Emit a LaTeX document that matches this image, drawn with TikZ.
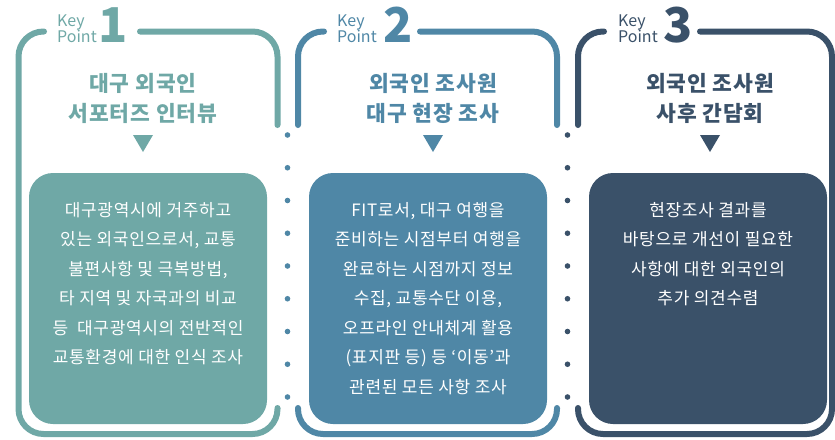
\documentclass[tikz,border=0pt]{standalone}
\usepackage{fontspec}
\setmainfont{Noto Sans CJK KR}
\newfontfamily\kpspaced{Noto Sans CJK KR}[LetterSpace=4]
\usepackage{xcolor}
\usepackage{tikz}
\usetikzlibrary{calc,positioning}
\definecolor{kpteal}{HTML}{6FA8A6}
\definecolor{kpblue}{HTML}{4F87A6}
\definecolor{kpnavy}{HTML}{3A5169}
\tikzset{
kpframe/.style={
	line width=6pt,
	line cap=round,
	rounded corners=25pt
},
bodybox/.style={rounded corners=24pt, minimum width=238pt, minimum height=251pt, inner sep=0pt},
bodytext/.style={text=white, align=center, inner sep=0pt, font=\kpspaced\fontsize{17}{29.5}\selectfont},
titletext/.style={align=center, inner sep=0pt, font=\kpspaced\bfseries\fontsize{21.5}{30}\selectfont},
keytext/.style={inner sep=0pt, anchor=base west, font=\fontsize{16}{16}\selectfont},
numtext/.style={inner sep=0pt, anchor=base, font=\bfseries\fontsize{48}{48}\selectfont}
}

\begin{document}
\begin{tikzpicture}[x=1pt,y=-1pt]
% Three key-point panels, pixel grid with y running down
\useasboundingbox (0,0) rectangle (835,439);

% ── Panel 1: supporter interview ───────────────────────────────
\draw[kpframe,kpteal] (44,31.5) -| (18.5,434) -| (277.5,408);
\draw[kpframe,kpteal] (140,31.5) -| (277.5,125);
\node[keytext,text=kpteal] (key1) at (57,26) {Key};
\node[keytext,text=kpteal] (point1) at (57,42) {Point};
\node[numtext,text=kpteal] (num1) at (113,42) {1};
\node[titletext,text=kpteal] (head1) at (143,98)
 {대구 외국인\\서포터즈 인터뷰};
\fill[kpteal] (133,135) -- (153,135) -- (143,152) -- cycle;
\node[bodybox,fill=kpteal] (box1) at (148,298.5) {};
\node[bodytext,below=29pt of box1.north] (txt1)
 {대구광역시에 거주하고\\있는 외국인으로서, 교통\\불편사항 및 극복방법,\\%
 타 지역 및 자국과의 비교\\등~ 대구광역시의 전반적인\\교통환경에 대한 인식 조사};

% ── Dots between panels ────────────────────────────────────────
\foreach \k in {0,...,8}
 \fill[kpblue] (287.5,{135+32.75*\k}) circle (2.8pt);
\foreach \k in {0,...,8}
 \fill[kpnavy] (567.5,{135+32.75*\k}) circle (2.8pt);

% ── Panel 2: field survey ──────────────────────────────────────
\draw[kpframe,kpblue] (324,31.5) -| (298,125);
\draw[kpframe,kpblue] (420,31.5) -| (557,125);
\draw[kpframe,kpblue] (298,408) |- (557,434) -- (557,408);
\node[keytext,text=kpblue] (key2) at (337,26) {Key};
\node[keytext,text=kpblue] (point2) at (337,42) {Point};
\node[numtext,text=kpblue] (num2) at (398,42) {2};
\node[titletext,text=kpblue] (head2) at (433,98)
 {외국인 조사원\\대구 현장 조사};
\fill[kpblue] (423,135) -- (443,135) -- (433,152) -- cycle;
\node[bodybox,fill=kpblue] (box2) at (428,298.5) {};
\node[bodytext,below=29pt of box2.north] (txt2)
 {FIT로서, 대구 여행을\\준비하는 시점부터 여행을\\완료하는 시점까지 정보\\%
 수집, 교통수단 이용,\\오프라인 안내체계 활용\\(표지판 등) 등 ‘이동’과\\관련된 모든 사항 조사};

% ── Panel 3: follow-up meeting ─────────────────────────────────
\draw[kpframe,kpnavy] (604,31.5) -| (578,125);
\draw[kpframe,kpnavy] (700,31.5) -| (832,434) -| (578,408);
\node[keytext,text=kpnavy] (key3) at (618,26) {Key};
\node[keytext,text=kpnavy] (point3) at (618,42) {Point};
\node[numtext,text=kpnavy] (num3) at (678,42) {3};
\node[titletext,text=kpnavy] (head3) at (710,98)
 {외국인 조사원\\사후 간담회};
\fill[kpnavy] (700,135) -- (720,135) -- (710,152) -- cycle;
\node[bodybox,fill=kpnavy] (box3) at (708,298.5) {};
\node[bodytext,below=29pt of box3.north] (txt3)
 {현장조사 결과를\\바탕으로 개선이 필요한\\사항에 대한 외국인의\\추가 의견수렴};
\end{tikzpicture}
\end{document}
